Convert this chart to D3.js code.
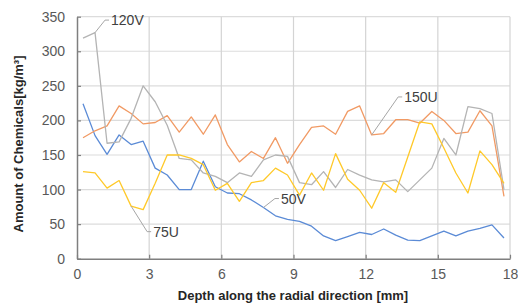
<!DOCTYPE html>
<html>
<head>
<meta charset="utf-8">
<script src="https://cdn.jsdelivr.net/npm/d3@7"></script>
<style>
  body { margin: 0; background: #fff; }
  svg text { font-family: "Liberation Sans", Arial, sans-serif; }
</style>
</head>
<body>
<div id="app"></div>
<script>
// depth positions [mm], one point every 0.5 mm
var depths = d3.range(36).map(function(i) { return 0.25 + i * 0.5; });

var blue50V = [224,178,151,179,165,170,131,121,100,100,141,104,95,94,85,74,62,57,54,47,
               33,26,32,38,35,43,34,27,26,33,40,33,40,44,49,30];
var orange150U = [175,185,192,221,210,195,197,207,183,205,180,208,165,140,155,145,175,138,165,190,
                  192,180,213,221,179,181,201,201,196,213,200,181,183,214,192,90];
var gray120V = [319,327,167,169,203,250,227,193,145,143,124,119,110,124,119,143,150,148,110,107,
                126,103,129,121,114,111,114,97,114,131,174,150,220,217,210,100];
var yellow75U = [126,124,102,113,76,71,109,150,150,145,136,99,109,83,110,113,131,121,92,124,
                 99,152,115,99,73,110,96,147,198,195,160,124,95,156,136,109];

var xTicks = [0, 3, 6, 9, 12, 15, 18];
var yTicks = [0, 50, 100, 150, 200, 250, 300, 350];

var series = [
    {name: "50V", values: blue50V, color: "#5b8bd6"},
    {name: "150U", values: orange150U, color: "#f19a64"},
    {name: "120V", values: gray120V, color: "#b4b4b4"},
    {name: "75U", values: yellow75U, color: "#ffc929"}
];

// data labels: which point they mark, and where the label sits
var labels = [
    {series: "120V", index: 1, dx: 10, dy: -12.5},
    {series: "75U", index: 4, dx: 16, dy: 25.5},
    {series: "50V", index: 15, dx: 11.5, dy: -9},
    {series: "150U", index: 24, dx: 26.5, dy: -38}
];

var width = 518,
    height = 305;

var svg = d3.select("#app").append("svg")
    .attr("width", width)
    .attr("height", height);

var x = d3.scaleLinear().domain([0, 18]).range([77, 510]);
var y = d3.scaleLinear().domain([0, 350]).range([258.7, 16.7]);

// gridlines
svg.append("g")
    .selectAll("line")
    .data(yTicks.slice(1))
    .enter().append("line")
    .attr("x1", x(0)).attr("x2", x(18))
    .attr("y1", function(d) { return y(d); })
    .attr("y2", function(d) { return y(d); })
    .attr("stroke", "#dcdcdc")
    .attr("stroke-width", 1.2);

svg.append("g")
    .selectAll("line")
    .data(xTicks.slice(1))
    .enter().append("line")
    .attr("x1", function(d) { return x(d); })
    .attr("x2", function(d) { return x(d); })
    .attr("y1", y(0)).attr("y2", y(350))
    .attr("stroke", "#d4d4d4")
    .attr("stroke-width", 1.2);

// axes
var xAxis = svg.append("g")
    .attr("transform", "translate(0," + y(0) + ")")
    .call(d3.axisBottom(x).tickValues(xTicks).tickSizeInner(-4).tickSizeOuter(0).tickPadding(10));

var yAxis = svg.append("g")
    .attr("transform", "translate(" + x(0) + ",0)")
    .call(d3.axisLeft(y).tickValues(yTicks).tickSizeInner(-4).tickSizeOuter(0).tickPadding(12));

[xAxis, yAxis].forEach(function(a) {
    a.select(".domain").attr("stroke", "#7f7f7f").attr("stroke-width", 1.5);
    a.selectAll(".tick line").attr("stroke", "#7f7f7f").attr("stroke-width", 1.2);
    a.selectAll(".tick text")
        .attr("fill", "#595959")
        .style("font-size", "14px")
        .style("font-family", "'Liberation Sans', Arial, sans-serif");
});

// series lines
var line = d3.line()
    .x(function(d) { return x(d[0]); })
    .y(function(d) { return y(d[1]); });

svg.append("g")
    .selectAll("path")
    .data(series)
    .enter().append("path")
    .attr("fill", "none")
    .attr("stroke", function(d) { return d.color; })
    .attr("stroke-width", 1.3)
    .attr("stroke-linejoin", "round")
    .attr("d", function(d) { return line(d3.zip(depths, d.values)); });

// data labels with leader lines
labels.forEach(function(l) {
    var s = series.find(function(d) { return d.name === l.series; });
    var px = x(depths[l.index]),
        py = y(s.values[l.index]);
    var ex = px + l.dx,
        ey = py + l.dy;
    svg.append("polyline")
        .attr("points", [[px, py], [ex, ey], [ex + 4, ey]].join(" "))
        .attr("fill", "none")
        .attr("stroke", "#a6a6a6")
        .attr("stroke-width", 1);
    svg.append("text")
        .attr("x", ex + 6)
        .attr("y", ey + 5)
        .attr("fill", "#404040")
        .style("font-size", "14px")
        .text(l.series);
});

// axis titles
svg.append("text")
    .attr("x", 293)
    .attr("y", 299.5)
    .attr("text-anchor", "middle")
    .attr("fill", "#262626")
    .style("font-size", "13px")
    .style("font-weight", "bold")
    .text("Depth along the radial direction [mm]");

svg.append("text")
    .attr("transform", "translate(23,144) rotate(-90)")
    .attr("text-anchor", "middle")
    .attr("fill", "#262626")
    .style("font-size", "13px")
    .style("font-weight", "bold")
    .text("Amount of Chemicals[kg/m³]");
</script>
</body>
</html>
